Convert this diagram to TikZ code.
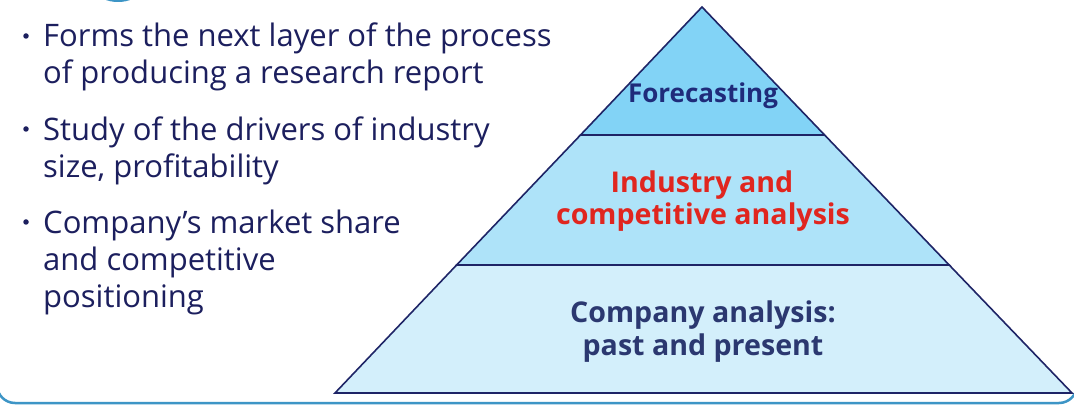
\documentclass[tikz,border=0pt]{standalone}
\usepackage{fontspec}
\setmainfont{Open Sans}
\definecolor{navytxt}{HTML}{1C1F5E}
\definecolor{outline}{HTML}{1E2466}
\definecolor{tierA}{HTML}{82D3F6}
\definecolor{tierB}{HTML}{AEE3F9}
\definecolor{tierC}{HTML}{D3EFFB}
\definecolor{labnavy}{HTML}{1F2B7A}
\definecolor{labred}{HTML}{E0261F}
\definecolor{labdark}{HTML}{2B3870}
\definecolor{frame}{HTML}{3D95C6}
\begin{document}
\begin{tikzpicture}[x=1pt,y=-1pt,
  bullettxt/.style={anchor=base west,inner sep=0pt,text=navytxt,font=\fontsize{31}{37}\selectfont},
  dotmark/.style={circle,fill=navytxt,inner sep=0pt,minimum size=5.5pt},
  tier/.style={draw=outline,line width=1.6pt,line join=miter},
  lab/.style={anchor=base,inner sep=0pt,font=\bfseries\fontsize{28.6}{33}\selectfont}]
\useasboundingbox (0,0) rectangle (1074,406);
\clip (0,0) rectangle (1074,406);
\fill[white] (0,0) rectangle (1074,406);
% frame
\draw[frame,line width=2.5pt,rounded corners=18pt] (-3,-40) rectangle (1077,403);
\fill[frame] (118,-8) ellipse [x radius=20,y radius=10];
% pyramid
\coordinate (apex) at (702,7);
\coordinate (bl) at (335,393);
\coordinate (br) at (1072,393);
\coordinate (l1) at (580.5,135);
\coordinate (r1) at (824.6,135);
\coordinate (l2) at (456.6,265);
\coordinate (r2) at (949.2,265);
\filldraw[tier,fill=tierC] (l2) -- (r2) -- (br) -- (bl) -- cycle;
\filldraw[tier,fill=tierB] (l1) -- (r1) -- (r2) -- (l2) -- cycle;
\filldraw[tier,fill=tierA] (apex) -- (r1) -- (l1) -- cycle;
% labels
\node[lab,text=labnavy,font=\bfseries\fontsize{26}{30}\selectfont] (fc) at (703,103) {Forecasting};
\node[lab,text=labred] (ind1) at (702,193) {Industry and};
\node[lab,text=labred] (ind2) at (703,225) {competitive analysis};
\node[lab,text=labdark] (co1) at (703,323) {Company analysis:};
\node[lab,text=labdark] (co2) at (703,355) {past and present};
% bullets
\node[dotmark] (d1) at (26,36) {};
\node[bullettxt] (t1) at (43,46.5) {Forms the next layer of the process};
\node[bullettxt] (t2) at (43,83.5) {of producing a research report};
\node[dotmark] (d2) at (26,129) {};
\node[bullettxt] (t3) at (43,140.5) {Study of the drivers of industry};
\node[bullettxt] (t4) at (43,177.5) {size, profitability};
\node[dotmark] (d3) at (26,222) {};
\node[bullettxt] (t5) at (43,233.5) {Company’s market share};
\node[bullettxt] (t6) at (43,270.5) {and competitive};
\node[bullettxt] (t7) at (43,307.5) {positioning};
\end{tikzpicture}
\end{document}
